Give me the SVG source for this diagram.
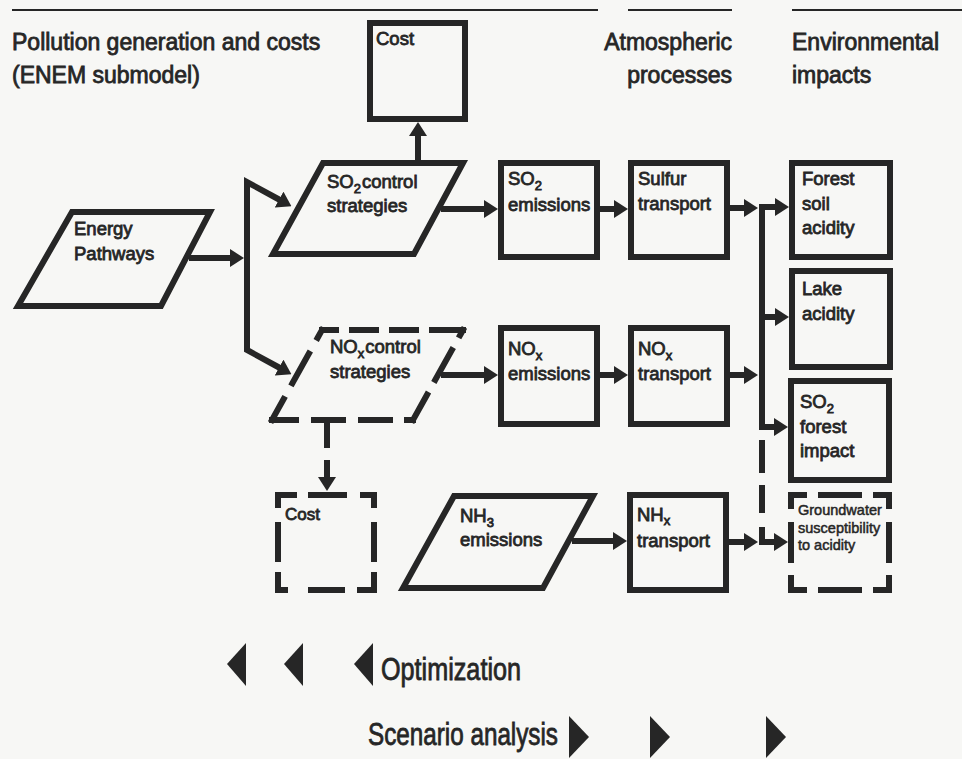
<svg xmlns="http://www.w3.org/2000/svg" width="962" height="759" viewBox="0 0 962 759">
  <style>
    .bg { fill: #f7f7f5; }
    .box { fill: none; stroke: #262626; stroke-width: 6; stroke-linejoin: miter; }
    .dsh { fill: none; stroke: #262626; stroke-width: 6; stroke-linecap: square; }
    .rule { stroke: #262626; stroke-width: 2; }
    .con { fill: none; stroke: #262626; stroke-width: 6; stroke-linejoin: miter; }
    .t { font-family: "Liberation Sans", Arial, sans-serif; fill: #262626; stroke: #262626; stroke-width: 0.8; }
    .h { font-size: 23px; }
    .l { font-size: 18.5px; }
    .s { font-size: 14.5px; stroke-width: 0.5; }
    .sub { font-size: 13px; }
    .big { font-size: 31px; }
    .tri { fill: #262626; }
  </style>
  <defs>
    <marker id="ah" viewBox="0 0 14 18" refX="1" refY="9" markerWidth="14" markerHeight="18" markerUnits="userSpaceOnUse" orient="auto">
      <path d="M0,0 L14,9 L0,18 Z" fill="#262626"/>
    </marker>
  </defs>

  <rect class="bg" x="0" y="0" width="962" height="759"/>

  <!-- column headings -->
  <g id="headings">
    <line class="rule" x1="12" y1="10" x2="598" y2="10"/>
    <line class="rule" x1="628" y1="10" x2="732" y2="10"/>
    <line class="rule" x1="792" y1="10" x2="962" y2="10"/>
    <text class="t h" x="12" y="50">Pollution generation and costs</text>
    <text class="t h" x="12" y="83">(ENEM submodel)</text>
    <text class="t h" x="732" y="50" text-anchor="end">Atmospheric</text>
    <text class="t h" x="732" y="83" text-anchor="end">processes</text>
    <text class="t h" x="792" y="50">Environmental</text>
    <text class="t h" x="792" y="83">impacts</text>
  </g>

  <!-- connectors -->
  <g id="connectors">
    <path class="con" d="M189,258 H231" marker-end="url(#ah)"/>
    <path class="con" d="M247,262 V182 L280,200" marker-end="url(#ah)"/>
    <path class="con" d="M247,255 V350 L280,368" marker-end="url(#ah)"/>
    <path class="con" d="M418,161 V135" marker-end="url(#ah)"/>
    <path class="con" d="M441,209 H485" marker-end="url(#ah)"/>
    <path class="con" d="M600,209 H615" marker-end="url(#ah)"/>
    <path class="con" d="M730,208 H745" marker-end="url(#ah)"/>
    <path class="con" d="M762,207 H776" marker-end="url(#ah)"/>
    <path class="con" d="M762,204 V427 H775" marker-end="url(#ah)"/>
    <path class="con" d="M762,317 H776" marker-end="url(#ah)"/>
    <path class="con" d="M441,375 H485" marker-end="url(#ah)"/>
    <path class="con" d="M600,375 H615" marker-end="url(#ah)"/>
    <path class="con" d="M730,375 H745" marker-end="url(#ah)"/>
    <path class="con" d="M572,541 H614" marker-end="url(#ah)"/>
    <path class="con" d="M729,542 H745" marker-end="url(#ah)"/>
    <path class="con" d="M327,421 V478" stroke-dasharray="27 12" marker-end="url(#ah)"/>
    <path class="con" d="M762,427 V542 H775" stroke-dasharray="0 13 33 12 28 14 200" marker-end="url(#ah)"/>
  </g>

  <!-- pollution generation nodes -->
  <g id="cost-so2">
    <rect class="box" x="370" y="23" width="95" height="96"/>
    <text class="t l" x="376" y="45">Cost</text>
  </g>

  <g id="energy-pathways">
    <polygon class="box" points="72,212 210,212 161,306 18,306"/>
    <text class="t l" x="74" y="235" font-size="19">Energy</text>
    <text class="t l" x="74" y="260" font-size="19">Pathways</text>
  </g>

  <g id="so2-control">
    <polygon class="box" points="323,163 463,163 414,254 273,254"/>
    <text class="t l" x="327" y="188">SO<tspan class="sub" dy="5">2</tspan><tspan dy="-5" dx="1">control</tspan></text>
    <text class="t l" x="327" y="212">strategies</text>
  </g>

  <g id="nox-control">
    <path class="dsh" d="M322,330 L463,330" stroke-dasharray="14 16 24 16 24 16 31"/>
    <path class="dsh" d="M463,330 L413,420" stroke-dasharray="6 17 34 17 29"/>
    <path class="dsh" d="M413,420 L272,420" stroke-dasharray="6 17 29 18 29 18 24"/>
    <path class="dsh" d="M272,420 L322,330" stroke-dasharray="24 18 34 18 9"/>
    <text class="t l" x="330" y="353">NO<tspan class="sub" dy="5">x</tspan><tspan dy="-5" dx="1">control</tspan></text>
    <text class="t l" x="330" y="378">strategies</text>
  </g>

  <g id="cost-nox">
    <path class="dsh" d="M278,495 L374,495" stroke-dasharray="16 17 33 19 11"/>
    <path class="dsh" d="M374,495 L374,590" stroke-dasharray="10 20 34 16 15"/>
    <path class="dsh" d="M278,590 L374,590" stroke-dasharray="7 26 31 18 14"/>
    <path class="dsh" d="M278,495 L278,590" stroke-dasharray="10 20 34 16 15"/>
    <text class="t" x="285" y="520" font-size="17">Cost</text>
  </g>

  <g id="nh3-emissions">
    <polygon class="box" points="454,496 593,496 543,588 403,588"/>
    <text class="t l" x="460" y="522">NH<tspan class="sub" dy="5">3</tspan></text>
    <text class="t l" x="460" y="546">emissions</text>
  </g>

  <g id="so2-emissions">
    <rect class="box" x="501" y="163" width="96" height="94"/>
    <text class="t l" x="508" y="185">SO<tspan class="sub" dy="5">2</tspan></text>
    <text class="t l" x="508" y="211">emissions</text>
  </g>

  <g id="nox-emissions">
    <rect class="box" x="501" y="328" width="96" height="96"/>
    <text class="t l" x="508" y="355">NO<tspan class="sub" dy="5">x</tspan></text>
    <text class="t l" x="508" y="380">emissions</text>
  </g>

  <!-- atmospheric processes -->
  <g id="sulfur-transport">
    <rect class="box" x="631" y="163" width="96" height="94"/>
    <text class="t l" x="638" y="185">Sulfur</text>
    <text class="t l" x="638" y="210">transport</text>
  </g>

  <g id="nox-transport">
    <rect class="box" x="631" y="328" width="96" height="96"/>
    <text class="t l" x="638" y="355">NO<tspan class="sub" dy="5">x</tspan></text>
    <text class="t l" x="638" y="380">transport</text>
  </g>

  <g id="nhx-transport">
    <rect class="box" x="630" y="495" width="96" height="95"/>
    <text class="t l" x="637" y="521">NH<tspan class="sub" dy="4">x</tspan></text>
    <text class="t l" x="637" y="547">transport</text>
  </g>

  <!-- environmental impacts -->
  <g id="forest-soil">
    <rect class="box" x="792" y="163" width="98" height="94"/>
    <text class="t l" x="802" y="185">Forest</text>
    <text class="t l" x="802" y="210">soil</text>
    <text class="t l" x="802" y="234">acidity</text>
  </g>

  <g id="lake-acidity">
    <rect class="box" x="792" y="271" width="98" height="96"/>
    <text class="t l" x="802" y="295">Lake</text>
    <text class="t l" x="802" y="320">acidity</text>
  </g>

  <g id="so2-forest">
    <rect class="box" x="791" y="381" width="98" height="99"/>
    <text class="t l" x="800" y="408">SO<tspan class="sub" dy="5">2</tspan></text>
    <text class="t l" x="800" y="433">forest</text>
    <text class="t l" x="800" y="457">impact</text>
  </g>

  <g id="groundwater">
    <path class="dsh" d="M791,495 L889,495" stroke-dasharray="13 17 38 17 13"/>
    <path class="dsh" d="M889,495 L889,590" stroke-dasharray="11 19 35 18 12"/>
    <path class="dsh" d="M791,590 L889,590" stroke-dasharray="13 17 38 17 13"/>
    <path class="dsh" d="M791,495 L791,590" stroke-dasharray="11 19 35 18 12"/>
    <text class="t s" x="798" y="515">Groundwater</text>
    <text class="t s" x="798" y="533">susceptibility</text>
    <text class="t s" x="798" y="550">to acidity</text>
  </g>

  <!-- analysis direction legend -->
  <g id="optimization">
    <polygon class="tri" points="227,664 246,643 246,686"/>
    <polygon class="tri" points="284,664 303,643 303,686"/>
    <polygon class="tri" points="354,664 373,643 373,686"/>
    <text class="t big" x="381" y="680" textLength="140" lengthAdjust="spacingAndGlyphs">Optimization</text>
  </g>

  <g id="scenario-analysis">
    <text class="t big" x="368" y="745" textLength="190" lengthAdjust="spacingAndGlyphs">Scenario analysis</text>
    <polygon class="tri" points="569,716 589,737 569,758"/>
    <polygon class="tri" points="650,716 670,737 650,758"/>
    <polygon class="tri" points="766,716 786,737 766,758"/>
  </g>
</svg>
